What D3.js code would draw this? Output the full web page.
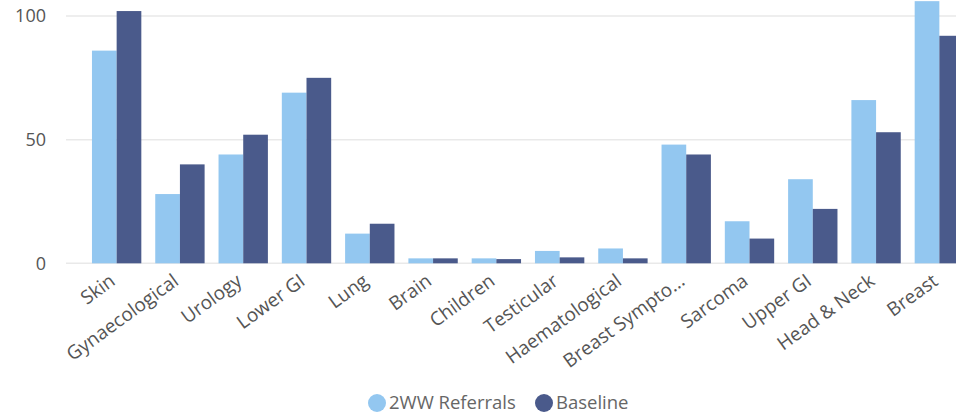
<!DOCTYPE html>
<html>
<head>
<meta charset="utf-8">
<script src="https://cdn.jsdelivr.net/npm/d3@7"></script>
<style>
  html, body { margin: 0; padding: 0; background: #fff; overflow: hidden; }
  svg { display: block; font-family: "Open Sans", "Noto Sans", sans-serif; }
</style>
</head>
<body>
<svg id="chart" width="956" height="419"></svg>
<script>
// Two-week-wait referrals against baseline, by tumour site
const categories = ["Skin", "Gynaecological", "Urology", "Lower GI", "Lung", "Brain", "Children",
  "Testicular", "Haematological", "Breast Sympto...", "Sarcoma", "Upper GI", "Head & Neck", "Breast"];
const referrals = [86, 28, 44, 69, 12, 2, 2, 5, 6, 48, 17, 34, 66, 106];
const baseline = [102, 40, 52, 75, 16, 2, 1.7, 2.4, 2, 44, 10, 22, 53, 92];
const seriesNames = ["2WW Referrals", "Baseline"];
const seriesColors = ["#93c7f0", "#4a5a8b"];
const yTicks = [0, 50, 100];

const svg = d3.select("#chart");
const width = 956;

const x = d3.scaleBand()
  .domain(categories)
  .range([85, 971])
  .paddingInner(0.22)
  .paddingOuter(0.11);

const xs = d3.scaleBand()
  .domain(seriesNames)
  .range([0, x.bandwidth()]);

const y = d3.scaleLinear().domain([0, 100]).range([263.3, 16]);

// Horizontal gridlines
svg.append("g")
  .selectAll("line")
  .data(yTicks)
  .join("line")
  .attr("x1", 66).attr("x2", width)
  .attr("y1", d => y(d)).attr("y2", d => y(d))
  .attr("stroke", "#e9e9e9")
  .attr("stroke-width", 1.5);

// Y axis labels
const yAxis = d3.axisLeft(y).tickValues(yTicks).tickSize(0).tickPadding(0);
svg.append("g")
  .attr("transform", "translate(46,0)")
  .call(yAxis)
  .call(g => g.select(".domain").remove())
  .call(g => g.selectAll("text")
    .attr("fill", "#555")
    .attr("font-size", 18)
    .attr("font-family", "'Open Sans', 'Noto Sans', sans-serif"));

// Bars
const rows = categories.map((c, i) => ({ cat: c, values: [referrals[i], baseline[i]] }));
const groups = svg.append("g")
  .selectAll("g")
  .data(rows)
  .join("g")
  .attr("transform", d => `translate(${x(d.cat)},0)`);

groups.selectAll("rect")
  .data(d => d.values.map((v, k) => ({ key: seriesNames[k], v, k })))
  .join("rect")
  .attr("x", d => xs(d.key))
  .attr("width", xs.bandwidth())
  .attr("y", d => y(d.v))
  .attr("height", d => y(0) - y(d.v))
  .attr("fill", d => seriesColors[d.k]);

// X axis labels, rotated
const xAxis = d3.axisBottom(x).tickSize(0).tickPadding(0);
svg.append("g")
  .attr("transform", `translate(0,${y(0)})`)
  .call(xAxis)
  .call(g => g.select(".domain").remove())
  .call(g => g.selectAll("text")
    .attr("fill", "#555")
    .attr("font-size", 19)
    .attr("font-family", "'Open Sans', 'Noto Sans', sans-serif")
    .attr("text-anchor", "end")
    .attr("dy", "0.35em")
    .attr("transform", "translate(-4,15) rotate(-36)"));

// Legend
const legend = svg.append("g").attr("transform", "translate(377,403)");
const items = [
  { name: seriesNames[0], color: seriesColors[0], cx: 0 },
  { name: seriesNames[1], color: seriesColors[1], cx: 167 }
];
const li = legend.selectAll("g").data(items).join("g")
  .attr("transform", d => `translate(${d.cx},0)`);
li.append("circle").attr("r", 9).attr("fill", d => d.color);
li.append("text")
  .attr("x", 12)
  .attr("dy", "0.35em")
  .attr("font-size", 18.5)
  .attr("fill", "#666")
  .text(d => d.name);
</script>
</body>
</html>
